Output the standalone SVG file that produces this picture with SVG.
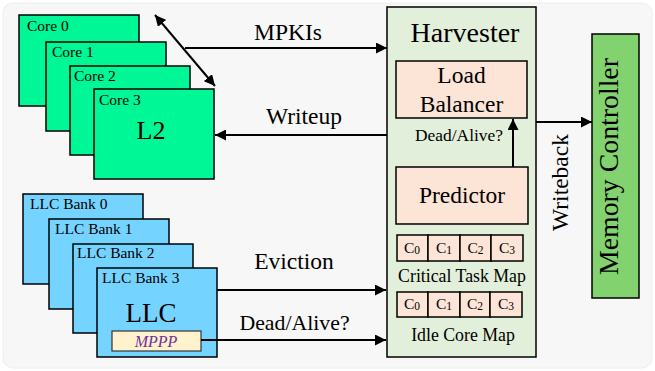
<svg xmlns="http://www.w3.org/2000/svg" width="655" height="371" viewBox="0 0 655 371" font-family="'Liberation Serif', 'Times New Roman', 'DejaVu Serif', serif">
<defs>
<marker id="ah" viewBox="0 0 10 10" refX="10" refY="5" markerWidth="11" markerHeight="11" markerUnits="userSpaceOnUse" orient="auto-start-reverse">
<path d="M0,0 L10,5 L0,10 z" fill="#000"/>
</marker>
<style>
text{font-family:'Liberation Serif','Times New Roman',serif;fill:#000}
.core{fill:#00f795;stroke:#000;stroke-width:1.5}
.llc{fill:#75d4ff;stroke:#000;stroke-width:1.5}
.peach{fill:#fce4d6;stroke:#000;stroke-width:1.5}
.lbl{font-size:15.5px}
.big{font-size:23.5px;text-anchor:middle}
.edge{stroke:#000;stroke-width:2;fill:none}
.cell{font-size:15.5px;text-anchor:middle}
.sub{font-size:11.5px}
.map{font-size:17.8px;text-anchor:middle}
</style>
</defs>
<rect x="3" y="3" width="649" height="365" rx="10" fill="#f7f7f7" stroke="#eeeeee"/>

<g id="core0"><rect class="core" x="19" y="15" width="120" height="91"/><text class="lbl" x="27" y="31">Core 0</text></g>
<g id="core1"><rect class="core" x="46" y="42" width="120" height="89"/><text class="lbl" x="52" y="56.5">Core 1</text></g>
<g id="core2"><rect class="core" x="70" y="66" width="120" height="89"/><text class="lbl" x="74" y="81">Core 2</text></g>
<g id="core3"><rect class="core" x="94" y="89" width="120" height="90"/><text class="lbl" x="99" y="105">Core 3</text><text x="151" y="139" font-size="26" text-anchor="middle">L2</text></g>

<g id="llc0"><rect class="llc" x="23" y="194" width="120" height="90"/><text class="lbl" x="30" y="208.5">LLC Bank 0</text></g>
<g id="llc1"><rect class="llc" x="49" y="219" width="120" height="90"/><text class="lbl" x="55" y="234">LLC Bank 1</text></g>
<g id="llc2"><rect class="llc" x="73" y="244" width="120" height="89"/><text class="lbl" x="77" y="258">LLC Bank 2</text></g>
<g id="llc3"><rect class="llc" x="97" y="268" width="120" height="89"/><text class="lbl" x="102" y="283">LLC Bank 3</text><text x="151" y="322" font-size="27" text-anchor="middle">LLC</text>
<rect x="112" y="331" width="89" height="20" fill="#fff2cc" stroke="#333" stroke-width="1.2"/><text x="156" y="346.5" font-size="16" font-style="italic" text-anchor="middle" style="fill:#7030a0">MPPP</text></g>

<g id="harvester">
<rect x="387" y="7" width="149" height="350" fill="#e2efda" stroke="#000" stroke-width="1.5"/>
<text x="465" y="41.5" font-size="28" text-anchor="middle">Harvester</text>
<g id="loadbalancer"><rect class="peach" x="396" y="61" width="131" height="57"/><text class="big" x="461.5" y="83">Load</text><text class="big" x="461.5" y="111.5">Balancer</text></g>
<text x="459" y="140.5" font-size="17.4" text-anchor="middle">Dead/Alive?</text>
<g id="predictor"><rect class="peach" x="396" y="167" width="132" height="57"/><text class="big" x="462" y="203">Predictor</text></g>
<g id="ctm">
<rect class="peach" x="397" y="235" width="31" height="26"/><rect class="peach" x="428" y="235" width="32" height="26"/><rect class="peach" x="460" y="235" width="31" height="26"/><rect class="peach" x="491" y="235" width="32" height="26"/>
<text class="cell" x="412" y="252.5">C<tspan class="sub" dy="1">0</tspan></text>
<text class="cell" x="444" y="252.5">C<tspan class="sub" dy="1">1</tspan></text>
<text class="cell" x="475.5" y="252.5">C<tspan class="sub" dy="1">2</tspan></text>
<text class="cell" x="507" y="252.5">C<tspan class="sub" dy="1">3</tspan></text>
<text class="map" x="462" y="281.5">Critical Task Map</text>
</g>
<g id="icm">
<rect class="peach" x="397" y="292" width="31" height="25"/><rect class="peach" x="428" y="292" width="32" height="25"/><rect class="peach" x="460" y="292" width="30" height="25"/><rect class="peach" x="490" y="292" width="32" height="25"/>
<text class="cell" x="412" y="308.5">C<tspan class="sub" dy="1">0</tspan></text>
<text class="cell" x="444" y="308.5">C<tspan class="sub" dy="1">1</tspan></text>
<text class="cell" x="475" y="308.5">C<tspan class="sub" dy="1">2</tspan></text>
<text class="cell" x="506" y="308.5">C<tspan class="sub" dy="1">3</tspan></text>
<text class="map" x="463" y="341">Idle Core Map</text>
</g>
</g>

<g id="memctrl"><rect x="592" y="34" width="47" height="264" fill="#82d270" stroke="#000" stroke-width="1.5"/><text transform="translate(618,166.5) rotate(-90)" font-size="27.8" text-anchor="middle">Memory Controller</text></g>

<g id="connectors">
<line class="edge" x1="155" y1="15" x2="215" y2="86" marker-start="url(#ah)" marker-end="url(#ah)"/>
<line class="edge" x1="185" y1="48" x2="387" y2="48" marker-end="url(#ah)"/>
<text class="big" x="288" y="40">MPKIs</text>
<line class="edge" x1="387" y1="135" x2="215" y2="135" marker-end="url(#ah)"/>
<text class="big" x="304" y="124">Writeup</text>
<line class="edge" x1="217" y1="290" x2="386" y2="290" marker-end="url(#ah)"/>
<text class="big" x="294" y="269">Eviction</text>
<line class="edge" x1="201" y1="340" x2="386" y2="340" marker-end="url(#ah)"/>
<text x="294.5" y="330" font-size="21.8" text-anchor="middle">Dead/Alive?</text>
<line class="edge" x1="513" y1="167" x2="513" y2="119" marker-end="url(#ah)"/>
<line class="edge" x1="536" y1="122" x2="592" y2="122" marker-end="url(#ah)"/>
<text transform="translate(568,182.5) rotate(-90)" font-size="23.5" text-anchor="middle">Writeback</text>
</g>
</svg>
